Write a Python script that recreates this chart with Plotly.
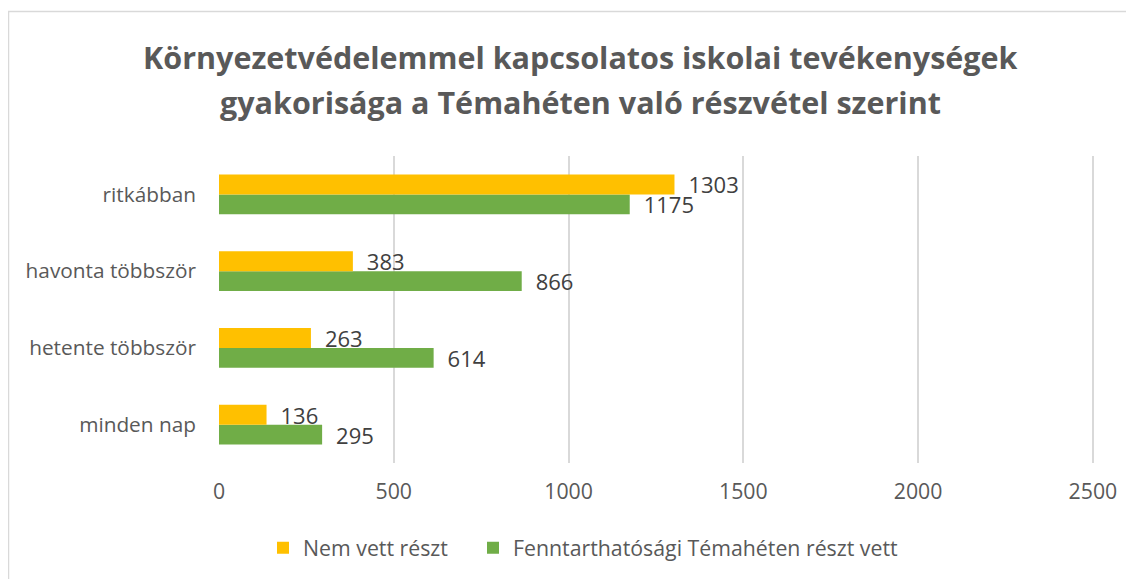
import plotly.graph_objects as go

categories = ["minden nap", "hetente többször", "havonta többször", "ritkábban"]
nem_vett = [136, 263, 383, 1303]
reszt_vett = [295, 614, 866, 1175]
series_names = ["Nem vett részt", "Fenntarthatósági Témahéten részt vett"]
title_lines = ["Környezetvédelemmel kapcsolatos iskolai tevékenységek",
               "gyakorisága a Témahéten való részvétel szerint"]
x_ticks = [0, 500, 1000, 1500, 2000, 2500]
X_MAX = 2506

# page body has an 8px margin, so figure pixel = screen pixel - 8
OFF = 8
W, H = 1134 - OFF, 579 - OFF
L = 219 - OFF
pw = round((1093 - 219) * X_MAX / 2500)
R = W - L - pw
T = 156 - OFF
B = H - (464 - OFF)
ph = H - T - B

FONT = "Open Sans"
TXT = "#595959"

def sx(px):
    return (px - OFF - L) / pw

def sy(py):
    return (H - B - (py - OFF)) / ph

def labels(vals):
    return ["\u2009\u2009\u2009" + str(v) for v in vals]

fig = go.Figure()
fig.add_trace(go.Bar(
    y=categories, x=reszt_vett, orientation="h", name=series_names[1],
    marker=dict(color="#70AD47", line=dict(width=0)), text=labels(reszt_vett),
    textposition="outside", cliponaxis=False, legend="legend2", constraintext="none",
    textfont=dict(family=FONT, size=22, color="#404040"),
))
fig.add_trace(go.Bar(
    y=categories, x=nem_vett, orientation="h", name=series_names[0],
    marker=dict(color="#FFC000", line=dict(width=0)), text=labels(nem_vett),
    textposition="outside", cliponaxis=False, legend="legend", constraintext="none",
    textfont=dict(family=FONT, size=22, color="#404040"),
))

annotations = []
for line, ypx in zip(title_lines, [57, 102]):
    annotations.append(dict(
        text="<b>" + line + "</b>", xref="paper", yref="paper",
        x=sx(580), y=sy(ypx), xanchor="center", yanchor="middle",
        showarrow=False, font=dict(family=FONT, size=30.5, color=TXT),
    ))

legend_common = dict(
    orientation="h", xanchor="left", y=sy(548), yanchor="middle",
    font=dict(family=FONT, size=21.3, color=TXT), itemsizing="constant",
    bgcolor="rgba(0,0,0,0)",
)

fig.update_layout(
    width=W, height=H,
    margin=dict(l=L, r=R, t=T, b=B),
    paper_bgcolor="white", plot_bgcolor="white",
    barmode="group", bargap=0.48, bargroupgap=0,
    annotations=annotations,
    xaxis=dict(
        range=[0, X_MAX], tickvals=x_ticks, showgrid=True, gridcolor="#D9D9D9",
        gridwidth=1.5, zeroline=False, showline=False, ticks="",
        ticklabelstandoff=14,
        tickfont=dict(family=FONT, size=21.3, color=TXT),
        fixedrange=True,
    ),
    yaxis=dict(
        categoryorder="array", categoryarray=categories, showgrid=False,
        showline=False, ticks="", ticklabelstandoff=22,
        tickfont=dict(family=FONT, size=20.8, color=TXT),
        fixedrange=True,
    ),
    legend=dict(x=sx(263), **legend_common),
    legend2=dict(x=sx(473), **legend_common),
    showlegend=True,
    shapes=[dict(
        type="rect", xref="paper", yref="paper",
        x0=sx(8.5), x1=sx(1160),
        y0=sy(600), y1=sy(11),
        line=dict(color="#D9D9D9", width=1.5), layer="below",
    )],
)
fig.write_html("out.html")
